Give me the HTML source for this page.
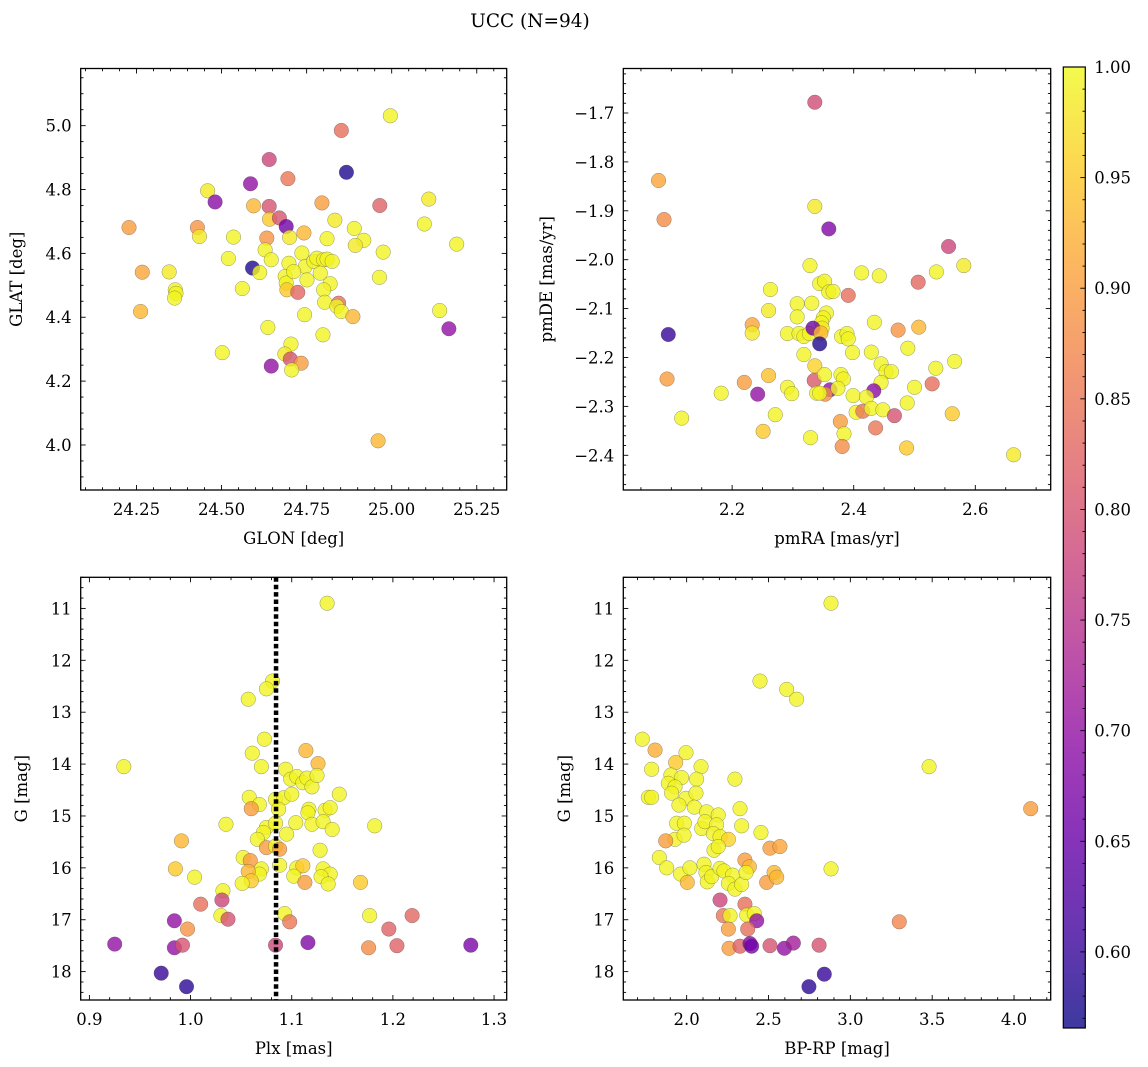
<!DOCTYPE html>
<html><head><meta charset="utf-8"><style>
html,body{margin:0;padding:0;background:#fff;}
svg{display:block;font-family:"DejaVu Serif","Liberation Serif",serif;}
</style></head><body>
<svg id="fig" width="1148" height="1067" viewBox="0 0 1148 1067" xmlns="http://www.w3.org/2000/svg">
<defs>
<linearGradient id="plasmaGrad" x1="0" y1="1" x2="0" y2="0">
<stop offset="0" stop-color="#0d0887"/><stop offset="0.1" stop-color="#41049d"/><stop offset="0.2" stop-color="#6a00a8"/><stop offset="0.3" stop-color="#8f0da4"/><stop offset="0.4" stop-color="#b12a90"/><stop offset="0.5" stop-color="#cc4778"/><stop offset="0.6" stop-color="#e16462"/><stop offset="0.7" stop-color="#f2844b"/><stop offset="0.8" stop-color="#fca636"/><stop offset="0.9" stop-color="#fcce25"/><stop offset="1" stop-color="#f0f921"/>
</linearGradient>
</defs>
<text x="530" y="27" text-anchor="middle" font-size="18.5">UCC (N=94)</text>
</svg>
<script>
// ---- data ----
const glon=[24.996,24.852,24.640,24.867,24.695,24.585,24.459,24.481,24.594,24.640,24.795,24.965,25.109,24.228,24.429,24.435,24.535,24.641,24.670,24.690,24.700,24.742,24.633,24.833,24.810,24.890,24.918,24.893,25.096,25.191,24.975,24.628,24.646,24.520,24.591,24.612,24.267,24.346,24.364,24.366,24.362,24.561,24.262,24.698,24.736,24.746,24.771,24.780,24.800,24.810,24.825,24.687,24.690,24.692,24.712,24.751,24.790,24.724,24.819,24.800,24.803,24.844,24.839,24.852,24.886,24.964,25.141,25.168,24.744,24.636,24.798,24.502,24.704,24.686,24.702,24.734,24.706,24.646,24.960];
const glat=[5.031,4.985,4.894,4.854,4.834,4.818,4.796,4.761,4.749,4.747,4.758,4.750,4.770,4.681,4.681,4.653,4.651,4.707,4.711,4.684,4.650,4.664,4.648,4.704,4.646,4.678,4.641,4.625,4.692,4.629,4.604,4.611,4.580,4.584,4.554,4.540,4.541,4.542,4.486,4.475,4.460,4.490,4.418,4.569,4.601,4.559,4.575,4.585,4.580,4.582,4.575,4.528,4.507,4.486,4.543,4.517,4.538,4.478,4.505,4.486,4.447,4.444,4.434,4.418,4.402,4.525,4.421,4.364,4.408,4.368,4.345,4.289,4.316,4.285,4.269,4.256,4.235,4.247,4.013];
const probA=[.995,.84,.78,.58,.85,.70,.985,.69,.93,.80,.90,.82,.985,.90,.89,.985,.995,.95,.80,.66,.985,.93,.89,.985,.995,.995,.995,.985,.995,.995,.995,.995,.995,.995,.58,.995,.91,.985,.995,.995,.995,.995,.93,.995,.995,.995,.995,.995,.995,.995,.995,.995,.995,.95,.995,.995,.995,.83,.995,.995,.995,.84,.995,.995,.93,.995,.995,.70,.995,.995,.995,.995,.995,.985,.80,.90,.995,.70,.93];

const pmra=[2.336,2.079,2.088,2.336,2.359,2.556,2.581,2.328,2.413,2.442,2.536,2.506,2.344,2.352,2.359,2.366,2.391,2.263,2.260,2.307,2.331,2.307,2.355,2.350,2.347,2.348,2.095,2.233,2.233,2.291,2.310,2.318,2.327,2.333,2.346,2.344,2.434,2.473,2.507,2.380,2.389,2.391,2.318,2.398,2.429,2.489,2.336,2.445,2.453,2.462,2.535,2.566,2.093,2.260,2.220,2.335,2.352,2.379,2.383,2.445,2.529,2.500,2.182,2.242,2.291,2.298,2.361,2.353,2.339,2.344,2.374,2.433,2.399,2.421,2.488,2.117,2.271,2.404,2.415,2.429,2.448,2.467,2.562,2.378,2.436,2.251,2.384,2.329,2.381,2.487,2.663];
const pmde=[-1.678,-1.838,-1.918,-1.891,-1.937,-1.973,-2.012,-2.012,-2.027,-2.033,-2.025,-2.046,-2.049,-2.044,-2.066,-2.065,-2.073,-2.061,-2.104,-2.090,-2.089,-2.117,-2.109,-2.119,-2.129,-2.140,-2.153,-2.133,-2.150,-2.151,-2.151,-2.157,-2.151,-2.140,-2.150,-2.172,-2.128,-2.144,-2.138,-2.157,-2.151,-2.162,-2.194,-2.190,-2.189,-2.181,-2.217,-2.213,-2.229,-2.229,-2.222,-2.208,-2.244,-2.237,-2.251,-2.247,-2.235,-2.235,-2.244,-2.251,-2.254,-2.261,-2.273,-2.275,-2.261,-2.274,-2.266,-2.275,-2.273,-2.273,-2.263,-2.268,-2.278,-2.281,-2.293,-2.324,-2.317,-2.312,-2.310,-2.304,-2.307,-2.319,-2.315,-2.331,-2.344,-2.351,-2.356,-2.364,-2.382,-2.385,-2.399];
const probB=[.79,.91,.88,.985,.68,.78,.985,.995,.995,.995,.995,.83,.995,.995,.995,.995,.84,.995,.985,.995,.995,.995,.995,.995,.995,.985,.60,.91,.985,.995,.995,.995,.995,.66,.93,.58,.995,.89,.93,.995,.995,.995,.995,.995,.995,.995,.96,.995,.995,.995,.995,.995,.90,.94,.90,.81,.995,.995,.995,.995,.84,.995,.995,.70,.995,.995,.70,.88,.995,.995,.995,.69,.995,.995,.995,.995,.995,.995,.85,.995,.995,.80,.95,.90,.85,.95,.995,.995,.88,.95,.985];

const plx=[1.135,1.081,1.075,1.057,1.073,1.061,1.070,0.934,1.114,1.126,1.094,1.099,1.105,1.111,1.115,1.120,1.125,1.147,1.058,1.068,1.060,1.084,1.092,1.100,1.087,1.117,1.116,1.133,1.138,1.035,1.104,1.120,1.131,1.140,1.182,1.075,1.072,1.084,1.095,0.991,1.066,1.075,1.084,1.088,1.128,1.052,1.059,0.985,1.070,1.088,1.068,1.057,1.105,1.111,1.131,1.138,1.102,1.129,1.136,1.004,1.060,1.051,1.113,1.168,1.032,1.031,1.010,1.030,1.037,1.093,1.098,1.177,1.219,0.984,0.997,1.196,0.925,0.984,0.992,1.084,1.116,1.176,1.204,1.277,0.971,0.996];
const gmagC=[10.90,12.40,12.55,12.75,13.52,13.79,14.05,14.05,13.74,13.99,14.10,14.29,14.24,14.36,14.27,14.44,14.22,14.58,14.64,14.78,14.86,14.68,14.65,14.58,14.87,14.87,14.94,14.89,14.84,15.16,15.13,15.16,15.11,15.26,15.19,15.22,15.32,15.14,15.35,15.48,15.45,15.61,15.58,15.64,15.66,15.80,15.86,16.02,16.02,15.95,16.12,16.07,16.00,15.96,16.02,16.12,16.16,16.17,16.31,16.18,16.25,16.30,16.28,16.28,16.44,16.62,16.70,16.92,16.99,16.88,17.04,16.92,16.92,17.02,17.18,17.18,17.47,17.54,17.49,17.49,17.44,17.54,17.50,17.49,18.03,18.29];
const probC=[.995,.995,.995,.995,.995,.995,.995,.995,.93,.93,.995,.995,.995,.995,.995,.995,.995,.995,.995,.995,.90,.995,.995,.995,.995,.995,.995,.995,.995,.995,.995,.995,.995,.995,.995,.995,.995,.995,.995,.93,.995,.90,.995,.90,.995,.995,.90,.95,.995,.995,.995,.93,.995,.95,.995,.995,.995,.995,.995,.995,.95,.995,.90,.95,.995,.78,.84,.995,.80,.995,.85,.995,.83,.70,.89,.82,.70,.70,.80,.78,.68,.88,.82,.67,.60,.59];
const plxMean=[1.0845];

const bprp=[2.882,2.448,2.611,2.672,1.729,1.807,1.996,1.786,1.933,2.088,1.904,1.969,2.061,1.888,1.929,1.908,2.295,3.481,1.766,1.786,1.996,2.057,1.953,2.047,2.122,2.326,4.102,2.193,1.939,1.986,1.929,1.984,2.092,2.112,2.183,2.163,2.204,2.336,2.454,2.255,1.872,2.167,2.193,2.509,2.570,1.833,1.878,1.963,2.020,2.004,2.106,2.118,2.126,2.153,2.204,2.228,2.356,2.383,2.281,2.255,2.295,2.336,2.363,2.489,2.534,2.550,2.882,2.204,2.356,2.224,2.265,2.367,2.413,2.428,2.255,2.373,3.299,2.259,2.326,2.387,2.397,2.509,2.597,2.652,2.809,2.747,2.841];
const gmagD=[10.90,12.40,12.56,12.75,13.52,13.73,13.78,14.10,13.97,14.05,14.21,14.26,14.29,14.37,14.44,14.56,14.29,14.05,14.64,14.64,14.66,14.56,14.79,14.83,14.92,14.86,14.86,14.98,15.14,15.14,15.45,15.37,15.24,15.11,15.17,15.34,15.40,15.19,15.32,15.45,15.48,15.66,15.59,15.62,15.59,15.80,16.00,16.12,16.00,16.28,15.93,16.09,16.27,16.17,16.01,16.06,15.85,15.98,16.14,16.30,16.41,16.32,16.09,16.28,16.09,16.18,16.02,16.62,16.70,16.92,16.92,16.91,16.88,17.02,17.18,17.18,17.04,17.55,17.51,17.46,17.51,17.50,17.55,17.45,17.49,18.29,18.05];
const probD=[.995,.995,.995,.995,.995,.92,.995,.995,.95,.995,.995,.995,.995,.995,.995,.995,.995,.995,.995,.995,.995,.995,.995,.995,.995,.995,.90,.995,.995,.995,.995,.995,.995,.995,.995,.995,.995,.995,.995,.96,.90,.995,.995,.90,.91,.995,.995,.995,.995,.93,.995,.995,.995,.995,.995,.995,.90,.93,.995,.995,.995,.995,.995,.90,.93,.93,.995,.78,.84,.85,.995,.995,.995,.70,.90,.84,.87,.90,.82,.68,.66,.80,.70,.72,.80,.59,.60];

const cbTicks=[0.60,0.65,0.70,0.75,0.80,0.85,0.90,0.95,1.00];
const cMin=0.5656, cMax=1.0;

// ---- helpers ----
const NS='http://www.w3.org/2000/svg';
const svg=document.getElementById('fig');
function mk(tag,attrs,parent){const e=document.createElementNS(NS,tag);for(const k in attrs)e.setAttribute(k,attrs[k]);(parent||svg).appendChild(e);return e;}
const pl=[[13,8,135],[65,4,157],[106,0,168],[143,13,164],[177,42,144],[204,71,120],[225,100,98],[242,132,75],[252,166,54],[252,206,37],[240,249,33]];
function plasma(v){let t=(v-cMin)/(cMax-cMin);t=Math.max(0,Math.min(1,t))*10;const i=Math.min(9,Math.floor(t)),f=t-i;const a=pl[i],b=pl[i+1];return 'rgb('+a.map((x,k)=>Math.round(x+(b[k]-x)*f)).join(',')+')';}
function fmtNum(v,d){const s=Math.abs(v).toFixed(d);return (v<-1e-9?'\u2212':'')+s;}
const TFS=16.5, LFS=16.5;

function panel(cfg){
  const g=mk('g',{});
  
  
  const sx=v=>cfg.L+(v-cfg.x0)/(cfg.x1-cfg.x0)*(cfg.R-cfg.L);
  const sy=cfg.inv?(v=>cfg.T+(v-cfg.y0)/(cfg.y1-cfg.y0)*(cfg.B-cfg.T)):(v=>cfg.B-(v-cfg.y0)/(cfg.y1-cfg.y0)*(cfg.B-cfg.T));
  const pts=mk('g',{},g);
  
  
  for(let i=0;i<cfg.xs.length;i++){
    const c=mk('circle',{cx:sx(cfg.xs[i]).toFixed(2),cy:sy(cfg.ys[i]).toFixed(2),r:7.3,fill:plasma(cfg.cs[i]),'fill-opacity':0.8,stroke:'#444','stroke-opacity':0.55,'stroke-width':0.5},pts);
    
    
  }
  if(cfg.vline){
    const vl=mk('line',{x1:sx(cfg.vline[0]),x2:sx(cfg.vline[0]),y1:cfg.T,y2:cfg.B,stroke:'#000','stroke-width':4.5,'stroke-dasharray':'4.5 2.9'},g);
    
    
  }
  const tk=mk('g',{stroke:'#000','stroke-width':0.9},g);
  
  
  const eps=1e-6;
  for(let v=Math.ceil(cfg.x0/cfg.xmin-eps)*cfg.xmin;v<=cfg.x1+eps;v+=cfg.xmin){
    const isMaj=Math.abs(v/cfg.xmaj-Math.round(v/cfg.xmaj))<1e-4;const len=isMaj?5:2.8;const x=sx(v);
    mk('line',{x1:x,x2:x,y1:cfg.B,y2:cfg.B-len},tk);mk('line',{x1:x,x2:x,y1:cfg.T,y2:cfg.T+len},tk);
  }
  for(let v=Math.ceil(cfg.y0/cfg.ymin-eps)*cfg.ymin;v<=cfg.y1+eps;v+=cfg.ymin){
    const isMaj=Math.abs(v/cfg.ymaj-Math.round(v/cfg.ymaj))<1e-4;const len=isMaj?5:2.8;const y=sy(v);
    mk('line',{x1:cfg.L,x2:cfg.L+len,y1:y,y2:y},tk);mk('line',{x1:cfg.R,x2:cfg.R-len,y1:y,y2:y},tk);
  }
  for(const v of cfg.xticks){
    const t=mk('text',{x:sx(v),y:cfg.B+25,'text-anchor':'middle','font-size':TFS},g);
    t.textContent=fmtNum(v,cfg.xd);
    
    
  }
  for(const v of cfg.yticks){
    const t=mk('text',{x:cfg.L-9,y:sy(v)+6,'text-anchor':'end','font-size':TFS},g);
    t.textContent=fmtNum(v,cfg.yd);
    
    
  }
  const xl=mk('text',{x:(cfg.L+cfg.R)/2,y:cfg.B+54,'text-anchor':'middle','font-size':LFS},g);
  xl.textContent=cfg.xlabel;
  
  
  const cy=(cfg.T+cfg.B)/2;
  const yl=mk('text',{x:cfg.ylx,y:cy,'text-anchor':'middle','font-size':LFS,transform:'rotate(-90 '+cfg.ylx+' '+cy+')'},g);
  yl.textContent=cfg.ylabel;
  
  
  const fr=mk('rect',{x:cfg.L,y:cfg.T,width:cfg.R-cfg.L,height:cfg.B-cfg.T,fill:'none',stroke:'#000','stroke-width':1.3},g);
  
  
}
function rng(a,b,s){const r=[];for(let v=a;v<=b+1e-9;v+=s)r.push(Math.round(v*1000)/1000);return r;}

panel({name:'glon-glat-panel',L:80.7,R:506.7,T:68.5,B:490,x0:24.086,x1:25.338,y0:3.859,y1:5.179,xs:glon,ys:glat,cs:probA,
  xmaj:0.25,xmin:0.05,ymaj:0.2,ymin:0.05,xticks:rng(24.25,25.25,0.25),yticks:rng(4.0,5.0,0.2),xd:2,yd:1,xlabel:'GLON [deg]',ylabel:'GLAT [deg]',ylx:22});
panel({name:'pm-panel',L:623.3,R:1050.7,T:68.5,B:490,x0:2.021,x1:2.724,y0:-2.471,y1:-1.609,xs:pmra,ys:pmde,cs:probB,
  xmaj:0.2,xmin:0.05,ymaj:0.1,ymin:0.02,xticks:[2.2,2.4,2.6],yticks:rng(-2.4,-1.7,0.1),xd:1,yd:1,xlabel:'pmRA [mas/yr]',ylabel:'pmDE [mas/yr]',ylx:552});
panel({name:'plx-g-panel',L:80.7,R:506.7,T:577.3,B:1000,x0:0.8914,x1:1.3125,y0:10.40,y1:18.547,inv:true,xs:plx,ys:gmagC,cs:probC,vline:plxMean,
  xmaj:0.1,xmin:0.02,ymaj:1,ymin:0.2,xticks:rng(0.9,1.3,0.1),yticks:rng(11,18,1),xd:1,yd:0,xlabel:'Plx [mas]',ylabel:'G [mag]',ylx:27});
panel({name:'cmd-panel',L:623.3,R:1050.7,T:577.3,B:1000,x0:1.613,x1:4.224,y0:10.40,y1:18.547,inv:true,xs:bprp,ys:gmagD,cs:probD,
  xmaj:0.5,xmin:0.1,ymaj:1,ymin:0.2,xticks:rng(2.0,4.0,0.5),yticks:rng(11,18,1),xd:1,yd:0,xlabel:'BP-RP [mag]',ylabel:'G [mag]',ylx:570});

(function(){
  const L=1063.3,R=1085.3,T=67,B=1028;
  const sy=v=>B-(v-cMin)/(cMax-cMin)*(B-T);
  const g=mk('g',{});
  
  
  mk('rect',{x:L,y:T,width:R-L,height:B-T,fill:'url(#plasmaGrad)','fill-opacity':0.8},g);
  const tk=mk('g',{stroke:'#000','stroke-width':0.9},g);
  for(let v=0.57;v<=1.0001;v+=0.01){const y=sy(v);const maj=Math.abs(v*20-Math.round(v*20))<1e-3;mk('line',{x1:R,x2:R-(maj?5:2.8),y1:y,y2:y},tk);}
  for(const v of cbTicks){
    const t=mk('text',{x:R+9,y:sy(v)+6,'font-size':TFS},g);
    t.textContent=v.toFixed(2);
    
    
  }
  mk('rect',{x:L,y:T,width:R-L,height:B-T,fill:'none',stroke:'#000','stroke-width':1.2},g);
})();
</script>
</body></html>
